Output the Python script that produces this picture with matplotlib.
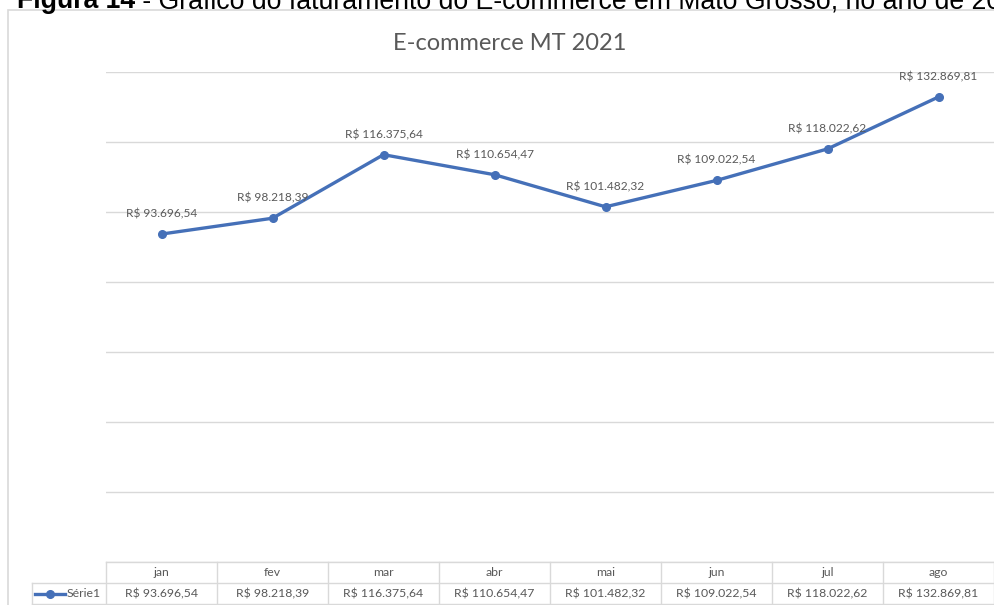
import matplotlib.pyplot as plt
from matplotlib.patches import Rectangle

# data
meses = ['jan', 'fev', 'mar', 'abr', 'mai', 'jun', 'jul', 'ago']
valores = [93696.54, 98218.39, 116375.64, 110654.47, 101482.32, 109022.54, 118022.62, 132869.81]
rotulos = ['R$ 93.696,54', 'R$ 98.218,39', 'R$ 116.375,64', 'R$ 110.654,47',
           'R$ 101.482,32', 'R$ 109.022,54', 'R$ 118.022,62', 'R$ 132.869,81']
serie = 'Série1'

W, H = 994, 605
cinza = '#595959'
azul = '#4570b8'
fonte = 'Lato'

fig = plt.figure(figsize=(W / 100, H / 100), dpi=100, facecolor='white')

# caption above the chart (cut off at the top like in the scan)
t1 = fig.text(17 / W, 1 - 8 / H, 'Figura 14', fontsize=19.2, fontweight='bold',
              family='Liberation Sans', va='baseline', ha='left')
fig.add_artist(plt.Annotation(' - Gráfico do faturamento do E-commerce em Mato Grosso, no ano de 2021',
                              xy=(1, 0), xycoords=t1, va='bottom', ha='left',
                              fontsize=19.2, family='Liberation Sans'))

# chart frame
fig.add_artist(Rectangle((8 / W, -0.01), 1.0, 1 - 10 / H + 0.01, transform=fig.transFigure,
                         fill=False, edgecolor='#d9d9d9', linewidth=1.2))

# title
fig.text(510 / W, 1 - 44 / H, 'E-commerce MT 2021', fontsize=17, color=cinza,
         family=fonte, ha='center', va='center')

# plot area
ax = fig.add_axes([106 / W, 1 - 562 / H, 1 - 106 / W, (562 - 72) / H])
ax.set_xlim(-0.5, len(meses) - 0.5)
ax.set_ylim(0, 140000)
ax.set_yticks(range(0, 140001, 20000))
ax.yaxis.grid(True, color='#d9d9d9', linewidth=1)
ax.set_axisbelow(True)
ax.tick_params(left=False, bottom=False, labelleft=False, labelbottom=False)
for s in ax.spines.values():
    s.set_visible(False)

x = list(range(len(meses)))
ax.plot(x, valores, color=azul, linewidth=2.4, marker='o', markersize=5.5,
        solid_capstyle='round', zorder=3)
for xi, v, r in zip(x, valores, rotulos):
    ax.annotate(r, (xi, v), xytext=(0, 14.5), textcoords='offset points',
                ha='center', va='center', fontsize=8.6, color=cinza, family=fonte)

# data table below the plot
tab = fig.add_axes([106 / W, 1 - 604 / H, 1 - 106 / W, (604 - 562) / H])
tab.set_xlim(-0.5, len(meses) - 0.5)
tab.set_ylim(0, 2)
tab.axis('off')
linha = dict(color='#d9d9d9', linewidth=1, clip_on=False)
esq = -0.5 - (106 - 32) / 111
tab.plot([-0.5, len(meses) - 0.5], [2, 2], **linha)
tab.plot([esq, len(meses) - 0.5], [1, 1], **linha)
tab.plot([esq, len(meses) - 0.5], [0.02, 0.02], **linha)
tab.plot([esq, esq], [0, 1], **linha)
for i in range(len(meses) + 1):
    tab.plot([i - 0.5, i - 0.5], [0, 2], **linha)
for xi, m, r in zip(x, meses, rotulos):
    tab.text(xi, 1.5, m, ha='center', va='center', fontsize=8.8, color=cinza, family=fonte)
    tab.text(xi, 0.5, r, ha='center', va='center', fontsize=8.8, color=cinza, family=fonte)

# legend key inside the table
kx0 = esq + 3 / 111
kx1 = esq + 33 / 111
tab.plot([kx0, kx1], [0.5, 0.5], color=azul, linewidth=2.4, clip_on=False)
tab.plot([(kx0 + kx1) / 2], [0.5], 'o', color=azul, markersize=5.5, clip_on=False)
tab.text(kx1 + 2 / 111, 0.5, serie, ha='left', va='center', fontsize=8.8, color=cinza, family=fonte)

fig.savefig('out.png', dpi=100)
